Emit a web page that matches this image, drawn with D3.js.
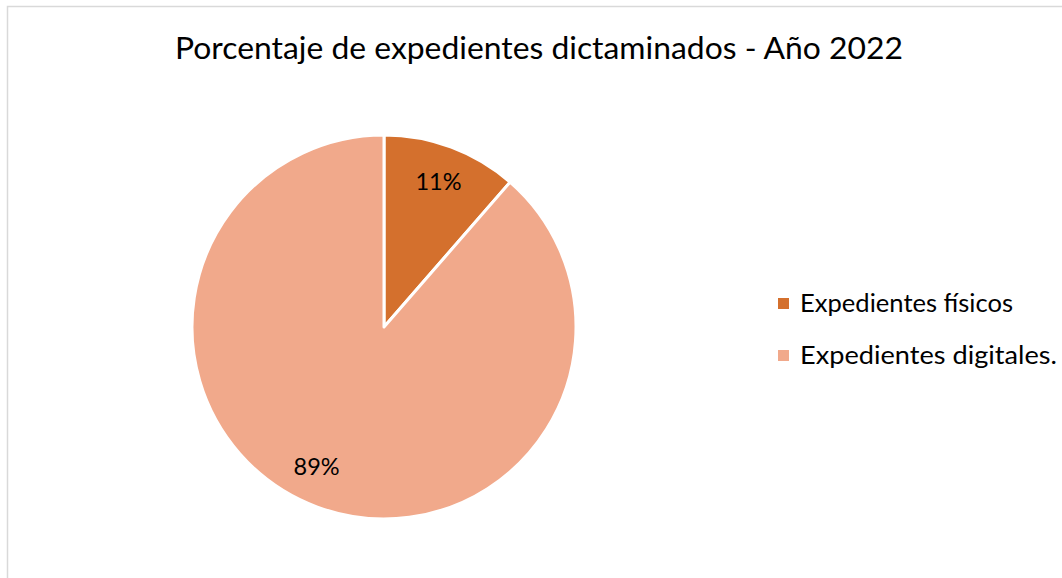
<!DOCTYPE html>
<html><head><meta charset="utf-8">
<script src="https://cdn.jsdelivr.net/npm/d3@7"></script>
<style>body{margin:0;background:#fff;} svg{display:block;}</style>
</head><body>
<svg id="c" width="1062" height="578"></svg>
<script>
const title = "Porcentaje de expedientes dictaminados - Año 2022";
const categories = ["Expedientes físicos", "Expedientes digitales."];
const values = [11.4, 88.6];
const colors = ["#D4702D", "#F1A98B"];

const svg = d3.select("#c");
const W = 1062, H = 578;
svg.append("rect").attr("x", 7.5).attr("y", 6.5).attr("width", W + 10).attr("height", H + 10)
  .attr("fill", "#fff").attr("stroke", "#d9d9d9").attr("stroke-width", 1.5);

const font = "Lato, 'Open Sans', sans-serif";
svg.append("text").attr("x", 539).attr("y", 59).attr("text-anchor", "middle")
  .attr("font-family", font).attr("font-size", 31).attr("fill", "#000")
  .attr("textLength", 728).attr("lengthAdjust", "spacingAndGlyphs").text(title);

const cx = 384, cy = 327, r = 192;
const data = categories.map((c, i) => ({ c, v: values[i], col: colors[i] }));
const pie = d3.pie().value(d => d.v).sort(null);
const arcs = pie(data);
const arc = d3.arc().innerRadius(0).outerRadius(r);
const g = svg.append("g").attr("transform", `translate(${cx},${cy})`);
g.selectAll("path").data(arcs).join("path")
  .attr("d", arc).attr("fill", d => d.data.col)
  .attr("stroke", "#fff").attr("stroke-width", 3).attr("stroke-linejoin", "round");

const total = d3.sum(values);
const lr = r * 0.81;
g.selectAll("text.lbl").data(arcs).join("text").attr("class", "lbl")
  .attr("transform", (d, i) => {
    const a = i === 0 ? (d.startAngle + d.endAngle) / 2 : (d.startAngle + d.endAngle) / 2 + 0.09;
    return `translate(${lr * Math.sin(a)},${-lr * Math.cos(a)})`;
  })
  .attr("text-anchor", "middle").attr("dy", "0.35em")
  .attr("font-family", font).attr("font-size", 23.5).attr("fill", "#000")
  .text(d => Math.round(d.data.v / total * 100) + "%");

const leg = svg.append("g");
const ly = d3.scalePoint().domain(categories).range([303, 355]);
const legW = [213, 257];
categories.forEach((c, i) => {
  leg.append("rect").attr("x", 778).attr("y", ly(c) - 5).attr("width", 11).attr("height", 11).attr("fill", colors[i]);
  leg.append("text").attr("x", 800).attr("y", ly(c)).attr("dy", "0.35em")
    .attr("font-family", font).attr("font-size", 25).attr("fill", "#000")
    .attr("textLength", legW[i]).attr("lengthAdjust", "spacingAndGlyphs").text(c);
});
</script>
</body></html>
